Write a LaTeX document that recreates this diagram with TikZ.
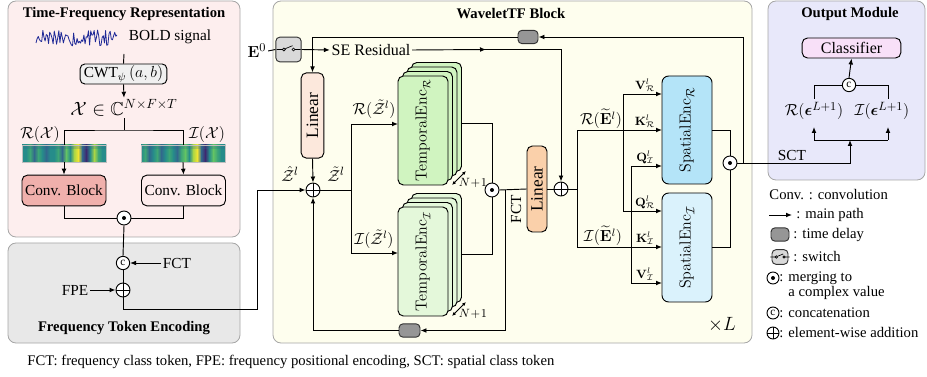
\documentclass[tikz,border=0pt]{standalone}
\usepackage{amsmath,amssymb,graphicx}
\usepackage[no-math]{fontspec}
\setmainfont{Liberation Serif}
\usetikzlibrary{arrows.meta,calc}
\definecolor{pinkbg}{RGB}{253,238,238}
\definecolor{graybg}{RGB}{232,232,232}
\definecolor{yelbg}{RGB}{254,254,238}
\definecolor{lavbg}{RGB}{232,232,250}
\definecolor{convA}{RGB}{240,176,172}
\definecolor{convB}{RGB}{253,236,236}
\definecolor{cwtc}{RGB}{240,240,240}
\definecolor{linA}{RGB}{252,232,220}
\definecolor{linB}{RGB}{250,208,170}
\definecolor{tencR}{RGB}{208,244,192}
\definecolor{tencI}{RGB}{228,248,218}
\definecolor{sencR}{RGB}{180,228,248}
\definecolor{sencI}{RGB}{218,242,252}
\definecolor{clsc}{RGB}{248,224,248}
\definecolor{delayc}{RGB}{150,150,150}
\definecolor{swc}{RGB}{217,217,217}
\definecolor{sigc}{RGB}{30,40,150}
\definecolor{vA}{RGB}{68,1,84}
\definecolor{vB}{RGB}{59,82,139}
\definecolor{vC}{RGB}{38,140,138}
\definecolor{vD}{RGB}{100,196,100}
\definecolor{vE}{RGB}{240,228,50}
\definecolor{vCD}{RGB}{62,166,118}
\definecolor{vBC}{RGB}{50,104,140}
\definecolor{vDE}{RGB}{170,214,70}
\definecolor{vAB}{RGB}{62,40,112}
\begin{document}
\begin{tikzpicture}[x=0.75pt,y=-0.75pt,
  font=\fontsize{11.5}{13}\selectfont,
  line width=0.7pt,
  >={Latex[length=4.5pt,width=3.6pt]},
  lbl/.style={inner sep=1pt},
  box/.style={draw, rounded corners=3.5pt, inner sep=0pt, line width=0.7pt},
  odotn/.style={circle, draw, fill=white, minimum size=10.5pt, inner sep=0pt, path picture={\fill[black] (path picture bounding box.center) circle (1.5pt);}},
  oplusn/.style={circle, draw, fill=white, minimum size=10.5pt, inner sep=0pt, path picture={\draw (path picture bounding box.north) -- (path picture bounding box.south) (path picture bounding box.west) -- (path picture bounding box.east);}},
  ocatn/.style={circle, draw, fill=white, minimum size=10pt, inner sep=0pt, font=\fontsize{8.5}{8.5}\selectfont},
  panel/.style={draw=gray!70, rounded corners=6pt, line width=0.6pt},
  ttl/.style={font=\fontsize{11}{13}\selectfont\bfseries},
  small/.style={font=\fontsize{9}{10}\selectfont, inner sep=0.5pt},
  leg/.style={font=\fontsize{11}{13}\selectfont, anchor=west, inner sep=0pt},
  delay/.style={box, fill=delayc, draw=gray!40!black, rounded corners=3pt, minimum width=15pt, minimum height=10pt},
  swbox/.style={box, fill=swc, draw=gray!40!black, rounded corners=3pt},
  swsym/.pic={\draw[line width=0.5pt] (-12,0) -- (-6,0) (-3.2,-0.8) -- (4,-3.8) (6.5,0) -- (12,0);
              \draw[line width=0.5pt] (-4.6,0) circle (1.5) (5,0) circle (1.5);}
]
\useasboundingbox (0,0) rectangle (927,377);
% panels
\draw[panel, fill=pinkbg] (8,1) rectangle (240,237);
\draw[panel, fill=graybg] (8,243) rectangle (240,343);
\draw[panel, fill=yelbg] (273,1) rectangle (752,343);
\draw[panel, fill=lavbg] (768,1) rectangle (925,180);

% ---------- Time-Frequency Representation ----------
\node[lbl, ttl] (t1) at (124,14) {Time-Frequency Representation};
\pgfmathsetseed{4242}
\draw[sigc, line width=0.6pt, line join=round] plot[domain=36:117, samples=72] (\x,{38+8*rand});
\node[lbl] (bold) at (170,37) {BOLD signal};
\coordinate (sigout) at (124,54);
\node[box, fill=cwtc, minimum width=65pt, minimum height=15pt] (cwt) at (123.5,74) {CWT$_{\psi}\,(a,b)$};
\node[lbl, font=\fontsize{14}{16}\selectfont] (X) at (124,108) {$\mathcal{X}\in\mathbb{C}^{N\times F\times T}$};
\coordinate (split) at (124,130);
\node[lbl, font=\fontsize{12.5}{14}\selectfont] (RX) at (40,135) {$\mathcal{R}(\mathcal{X})$};
\node[lbl, font=\fontsize{12.5}{14}\selectfont] (IX) at (207,135) {$\mathcal{I}(\mathcal{X})$};
% heatmaps (smoothly blended colour columns)
\foreach \a/\b [count=\i from 0] in {vC/vC, vC/vCD, vCD/vBC, vBC/vCD, vCD/vC, vC/vBC, vBC/vC, vC/vC, vC/vCD, vCD/vBC, vBC/vD, vD/vC, vC/vDE, vDE/vE, vE/vBC, vBC/vAB, vAB/vC, vC/vDE, vDE/vCD, vCD/vC, vC/vC} {
  \shade[left color=\a, right color=\b] ({22+4*\i},145) rectangle ({26.3+4*\i},162);
}
\foreach \a/\b [count=\i from 0] in {vC/vCD, vCD/vBC, vBC/vC, vC/vCD, vCD/vBC, vBC/vC, vC/vCD, vCD/vC, vC/vBC, vBC/vCD, vCD/vD, vD/vC, vC/vDE, vDE/vE, vE/vBC, vBC/vAB, vAB/vC, vC/vD, vD/vCD, vCD/vC, vC/vC} {
  \shade[left color=\a, right color=\b] ({141+4*\i},145) rectangle ({145.3+4*\i},162);
}
\fill[vBC, opacity=0.25] (22,145) rectangle (106,149);
\fill[vBC, opacity=0.25] (141,145) rectangle (225,149);
\node[draw=gray!50, line width=0.3pt, minimum width=63pt, minimum height=12.75pt, inner sep=0pt] (hmL) at (64,153.5) {};
\node[draw=gray!50, line width=0.3pt, minimum width=63pt, minimum height=12.75pt, inner sep=0pt] (hmR) at (183,153.5) {};
\node[box, fill=convA, rounded corners=4pt, minimum width=63pt, minimum height=23pt] (convL) at (64,190.5) {Conv. Block};
\node[box, fill=convB, rounded corners=4pt, minimum width=63pt, minimum height=23pt] (convR) at (183.5,190.5) {Conv. Block};
\node[odotn] (mg1) at (124,218) {};
\draw (sigout) -- (cwt.north);
\draw[->] (cwt.south) -- (X.north);
\draw (X.south) -- (split);
\draw (hmL.north) |- (split) -| (hmR.north);
\draw[->] (hmL.south) -- (convL.north);
\draw[->] (hmR.south) -- (convR.north);
\draw (convL.south) |- (mg1.west);
\draw (convR.south) |- (mg1.east);

% ---------- Frequency Token Encoding ----------
\node[ocatn] (cat1) at (123,263) {c};
\node[oplusn] (add1) at (123,290) {};
\node[lbl] (fct) at (177,263) {FCT};
\node[lbl] (fpe) at (75,290) {FPE};
\node[lbl, ttl] (t2) at (124,328) {Frequency Token Encoding};
\draw (mg1.south) -- (cat1.north);
\draw[->] (fct.west) -- (cat1.east);
\draw (cat1.south) -- (add1.north);
\draw[->] (fpe.east) -- (add1.west);

% ---------- WaveletTF Block ----------
\node[lbl, ttl] (t3) at (511,14) {WaveletTF Block};
\node[lbl, font=\fontsize{13}{15}\selectfont] (E0) at (257,51) {$\mathbf{E}^{0}$};
\node[swbox, minimum width=19pt, minimum height=18.5pt] (sw) at (288.5,49.5) {};
\pic at (sw.center) {swsym};
\node[lbl, font=\fontsize{12}{14}\selectfont] (se) at (371,50) {SE Residual};
\node[delay] (dl1) at (528,37) {};
\node[box, fill=linA, rounded corners=4pt, minimum width=17pt, minimum height=64pt, font=\fontsize{13}{15}\selectfont] (lin1) at (312.5,115.5) {\rotatebox{90}{Linear}};
\node[oplusn] (add2) at (313,190) {};
\node[lbl, font=\fontsize{12.5}{14}\selectfont] (zh) at (290,174) {$\hat{\mathcal{Z}}^{l}$};
\node[lbl, font=\fontsize{12.5}{14}\selectfont] (zt) at (336,174) {$\tilde{\mathcal{Z}}^{l}$};
\coordinate (zs) at (351,190);
\coordinate (tRin) at (398,124);
\coordinate (tIin) at (398,253);
\node[lbl, font=\fontsize{12}{14}\selectfont] (RZ) at (374,109) {$\mathcal{R}(\tilde{\mathcal{Z}}^{l})$};
\node[lbl, font=\fontsize{12}{14}\selectfont] (IZ) at (374,239) {$\mathcal{I}(\tilde{\mathcal{Z}}^{l})$};
% temporal encoder stacks
\foreach \k in {3,2,1} {
  \draw[fill=tencR, rounded corners=4pt] ({398+4.5*\k},{76-4.5*\k}) rectangle ({448+4.5*\k},{185-4.5*\k});
  \draw[fill=tencI, rounded corners=4pt] ({398+4.5*\k},{207-4.5*\k}) rectangle ({448+4.5*\k},{316-4.5*\k});
}
\node[box, fill=tencR, rounded corners=4pt, minimum width=37.5pt, minimum height=81.75pt, font=\fontsize{11.5}{13}\selectfont] (tR) at (423,130.5) {\rotatebox{90}{$\mathrm{TemporalEnc}_{\mathcal{R}}$}};
\node[box, fill=tencI, rounded corners=4pt, minimum width=37.5pt, minimum height=81.75pt, font=\fontsize{11.5}{13}\selectfont] (tI) at (423,261.5) {\rotatebox{90}{$\mathrm{TemporalEnc}_{\mathcal{I}}$}};
\coordinate (nRa) at (452,185); \coordinate (nRb) at (466,171);
\coordinate (nIa) at (452,316); \coordinate (nIb) at (466,302);
\draw[{Latex[length=3pt,width=2.6pt]}-{Latex[length=3pt,width=2.6pt]}, line width=0.6pt] (nRa) -- (nRb);
\draw[{Latex[length=3pt,width=2.6pt]}-{Latex[length=3pt,width=2.6pt]}, line width=0.6pt] (nIa) -- (nIb);
\node[small] (nR) at (473,183) {$N\!+\!1$};
\node[small] (nI) at (473,314) {$N\!+\!1$};
\coordinate (tRout) at (461,123);
\coordinate (tIout) at (461,254);
\node[odotn] (mg2) at (492,190) {};
\node[box, fill=linB, rounded corners=4pt, minimum width=15pt, minimum height=64.5pt, font=\fontsize{13}{15}\selectfont] (lin2) at (537,189) {\rotatebox{90}{Linear}};
\node[oplusn] (add3) at (561,189) {};
\node[lbl] (fctv) at (516,209) {\rotatebox{90}{FCT}};
\coordinate (fb) at (505,190);
\node[delay, minimum width=15.75pt] (dl2) at (409.5,330.5) {};
\coordinate (es) at (577,189);
\coordinate (kRin) at (662,130);
\coordinate (kIin) at (662,247);
\coordinate (vRin) at (662,94);
\coordinate (qRin) at (662,211);
\coordinate (qIin) at (662,166);
\coordinate (vIin) at (662,283);
\coordinate (jR) at (623,130);
\coordinate (jI) at (631,247);
\node[lbl, font=\fontsize{12}{14}\selectfont] (RE) at (601,119) {$\mathcal{R}(\widetilde{\mathbf{E}}^{l})$};
\node[lbl, font=\fontsize{12}{14}\selectfont] (IE) at (603,236) {$\mathcal{I}(\widetilde{\mathbf{E}}^{l})$};
\node[box, fill=sencR, rounded corners=5pt, minimum width=37.5pt, minimum height=81pt, font=\fontsize{12.5}{14}\selectfont] (sR) at (687,130) {\rotatebox{90}{$\mathrm{SpatialEnc}_{\mathcal{R}}$}};
\node[box, fill=sencI, rounded corners=5pt, minimum width=37.5pt, minimum height=81.75pt, font=\fontsize{12.5}{14}\selectfont] (sI) at (687,247.5) {\rotatebox{90}{$\mathrm{SpatialEnc}_{\mathcal{I}}$}};
\node[small, anchor=south] (lvR) at (645,93) {$\mathbf{V}^{l}_{\mathcal{R}}$};
\node[small, anchor=south] (lkR) at (645,129) {$\mathbf{K}^{l}_{\mathcal{R}}$};
\node[small, anchor=south] (lqI) at (645,165) {$\mathbf{Q}^{l}_{\mathcal{I}}$};
\node[small, anchor=south] (lqR) at (645,210) {$\mathbf{Q}^{l}_{\mathcal{R}}$};
\node[small, anchor=south] (lkI) at (645,246) {$\mathbf{K}^{l}_{\mathcal{I}}$};
\node[small, anchor=south] (lvI) at (645,282) {$\mathbf{V}^{l}_{\mathcal{I}}$};
\node[odotn] (mg3) at (730,163) {};
\coordinate (br) at (743,163);
\node[lbl, font=\fontsize{15}{17}\selectfont] (xL) at (722,325) {$\times L$};

% connectors in WaveletTF block
\draw (E0.east) -- (sw.west);
\draw[->] (sw.east) -- (se.west);
\draw[->] (se.east) -- (486,49.5);
\draw[->] (484,49.5) -| (add3.north);
\draw[->] (br) |- (dl1.east);
\draw[->] (dl1.west) -| (lin1.north);
\draw[->] (lin1.south) -- (add2.north);
\draw[->] (add1.south) |- (257,309) |- (add2.west);
\draw (add2.east) -- (zs);
\draw[->] (zs) |- (tRin);
\draw[->] (zs) |- (tIin);
\draw (tRout) -| (mg2.north);
\draw (tIout) -| (mg2.south);
\draw (mg2.east) -- (lin2.west);
\draw[->] (fb) |- (dl2.east);
\draw[->] (dl2.west) -| (add2.south);
\draw (lin2.east) -- (add3.west);
\draw (add3.east) -- (es);
\draw[->] (es) |- (kRin);
\draw[->] (es) |- (kIin);
\draw[->] (jR) |- (vRin);
\draw[->] (jR) |- (qRin);
\draw[->] (jI) |- (qIin);
\draw[->] (jI) |- (vIin);
\draw (sR.east |- kRin) -| (mg3.north);
\draw (sI.east |- kIin) -| (mg3.south);

% ---------- Output Module ----------
\node[lbl, ttl] (t4) at (850,14) {Output Module};
\node[box, fill=clsc, rounded corners=4pt, minimum width=74pt, minimum height=15pt, font=\fontsize{12}{14}\selectfont] (cls) at (851.5,48) {Classifier};
\node[ocatn] (cat2) at (849,85) {c};
\node[lbl, font=\fontsize{12.5}{14}\selectfont] (oR) at (814,111) {$\mathcal{R}(\boldsymbol{\epsilon}^{L+1})$};
\node[lbl, font=\fontsize{12.5}{14}\selectfont] (oI) at (882,111) {$\mathcal{I}(\boldsymbol{\epsilon}^{L+1})$};
\node[lbl] (sct) at (792,156) {SCT};
\coordinate (sctj) at (850,140);
\coordinate (aR) at (814,140);
\coordinate (aI) at (888,140);
\coordinate (aRt) at (814,127);
\coordinate (aIt) at (888,127);
\coordinate (uR) at (814,99);
\coordinate (uI) at (888,99);
\draw[->] (mg3.east) -| (sctj);
\draw (aR) -- (aI);
\draw[->] (aR) -- (aRt);
\draw[->] (aI) -- (aIt);
\draw (uR) |- (cat2.west);
\draw (uI) |- (cat2.east);
\draw[->] (cat2.north) -- (cls.south);

% ---------- Legend ----------
\node[leg] (lg1) at (769,195) {Conv. : convolution};
\coordinate (lgA) at (769,215);
\coordinate (lgB) at (792,215);
\draw[->] (lgA) -- (lgB);
\node[leg] (lg2) at (796,215) {: main path};
\node[delay, minimum width=13.5pt, minimum height=10pt] (lgd) at (780,234.5) {};
\node[leg] (lg3) at (793,234.5) {: time delay};
\node[swbox, minimum width=12pt, minimum height=11pt] (lgs) at (780,257) {};
\pic[scale=0.8] at (lgs.center) {swsym};
\node[leg] (lg4) at (793,257) {: switch};
\node[odotn, minimum size=9pt] (lgo) at (773,278) {};
\node[leg] (lg5) at (779,278) {: merging to};
\node[leg] (lg5b) at (788,293) {a complex value};
\node[ocatn, minimum size=9pt] (lgc) at (773,313) {c};
\node[leg] (lg6) at (779,313) {: concatenation};
\node[oplusn, minimum size=9pt] (lgp) at (773,333) {};
\node[leg] (lg7) at (779,333) {: element-wise addition};

% footnote
\node[leg] (fn) at (27,362) {FCT: frequency class token, FPE: frequency positional encoding, SCT: spatial class token};
\end{tikzpicture}
\end{document}
